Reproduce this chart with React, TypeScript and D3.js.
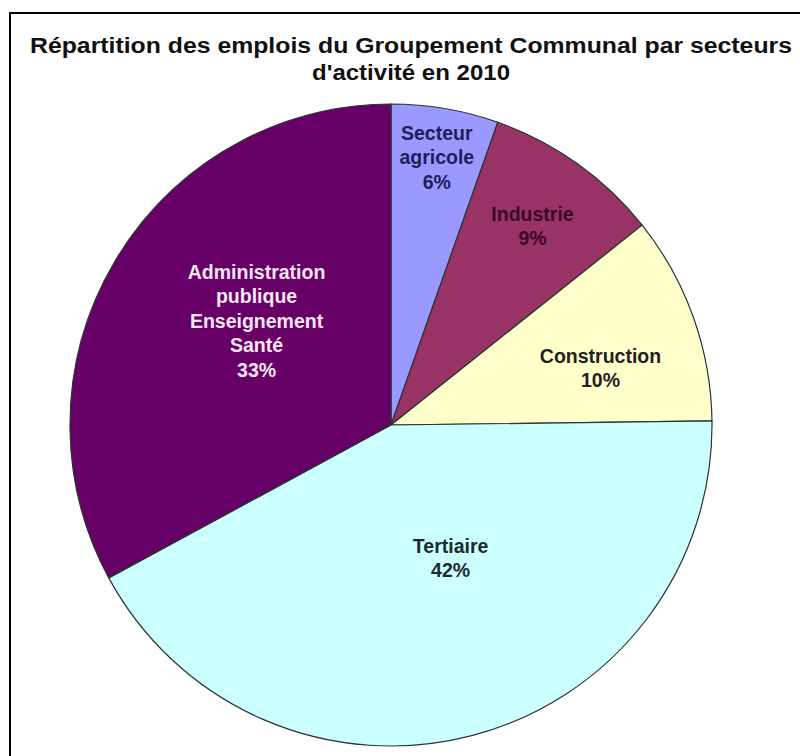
import React from "react";
import * as d3 from "d3";

const categories = ["Secteur agricole", "Industrie", "Construction", "Tertiaire", "Administration publique Enseignement Santé"];
const labelLines = [
  ["Secteur", "agricole"],
  ["Industrie"],
  ["Construction"],
  ["Tertiaire"],
  ["Administration", "publique", "Enseignement", "Santé"],
];
const percentLabels = ["6%", "9%", "10%", "42%", "33%"];
const shares = [5.4, 8.9, 10.5, 42.3, 32.9];
const colors = ["#9999FF", "#993366", "#FFFFCC", "#CCFFFF", "#660066"];
const textColors = ["#1E1E5A", "#3A0A22", "#222222", "#1C2A32", "#F6E6F6"];
const titleLines = ["Répartition des emplois du Groupement Communal par secteurs", "d'activité en 2010"];

export default function App() {
  const W = 800, H = 756;
  const cx = 391, cy = 425, r = 321;
  const data = shares.map((v, i) => ({ v, i }));
  const pie = d3.pie<any>().value((d) => d.v).sort(null).startAngle(0).endAngle(2 * Math.PI);
  const arcs = pie(data);
  const arc = d3.arc<any>().innerRadius(0).outerRadius(r);
  const labelRadius = [0.845, 0.76, 0.676, 0.455, 0.53];
  const labelAngleOffset = [0, 0, 4.5, -9.5, 7];
  const lh = 24.5;
  return (
    <svg width={W} height={H} style={{ position: "absolute", left: 0, top: 0, background: "#fff" }}
      fontFamily="'Liberation Sans', Arial, sans-serif">
      <rect x={10} y={13} width={W + 20} height={H + 20} fill="#fff" stroke="#000" strokeWidth={2} />
      <text x={411} y={53} textAnchor="middle" fontSize={22} fontWeight="bold" fill="#111"
        textLength={762} lengthAdjust="spacingAndGlyphs">{titleLines[0]}</text>
      <text x={411} y={80} textAnchor="middle" fontSize={22} fontWeight="bold" fill="#111"
        textLength={198} lengthAdjust="spacingAndGlyphs">{titleLines[1]}</text>
      <g transform={`translate(${cx},${cy})`}>
        {arcs.map((a, i) => (
          <path key={categories[i]} d={arc(a) as string} fill={colors[i]} stroke="#2a3535" strokeWidth={1.2} />
        ))}
        {arcs.map((a, i) => {
          const mid = (a.startAngle + a.endAngle) / 2 + (labelAngleOffset[i] * Math.PI) / 180;
          const lr = r * labelRadius[i];
          const x = Math.sin(mid) * lr;
          const y = -Math.cos(mid) * lr;
          const lines = [...labelLines[i], percentLabels[i]];
          const y0 = y - ((lines.length - 1) * lh) / 2;
          return (
            <text key={"l" + i} textAnchor="middle" fontSize={19.5} fontWeight="bold" fill={textColors[i]}>
              {lines.map((t, j) => (
                <tspan key={j} x={x} y={y0 + j * lh} dy="0.35em">{t}</tspan>
              ))}
            </text>
          );
        })}
      </g>
    </svg>
  );
}
